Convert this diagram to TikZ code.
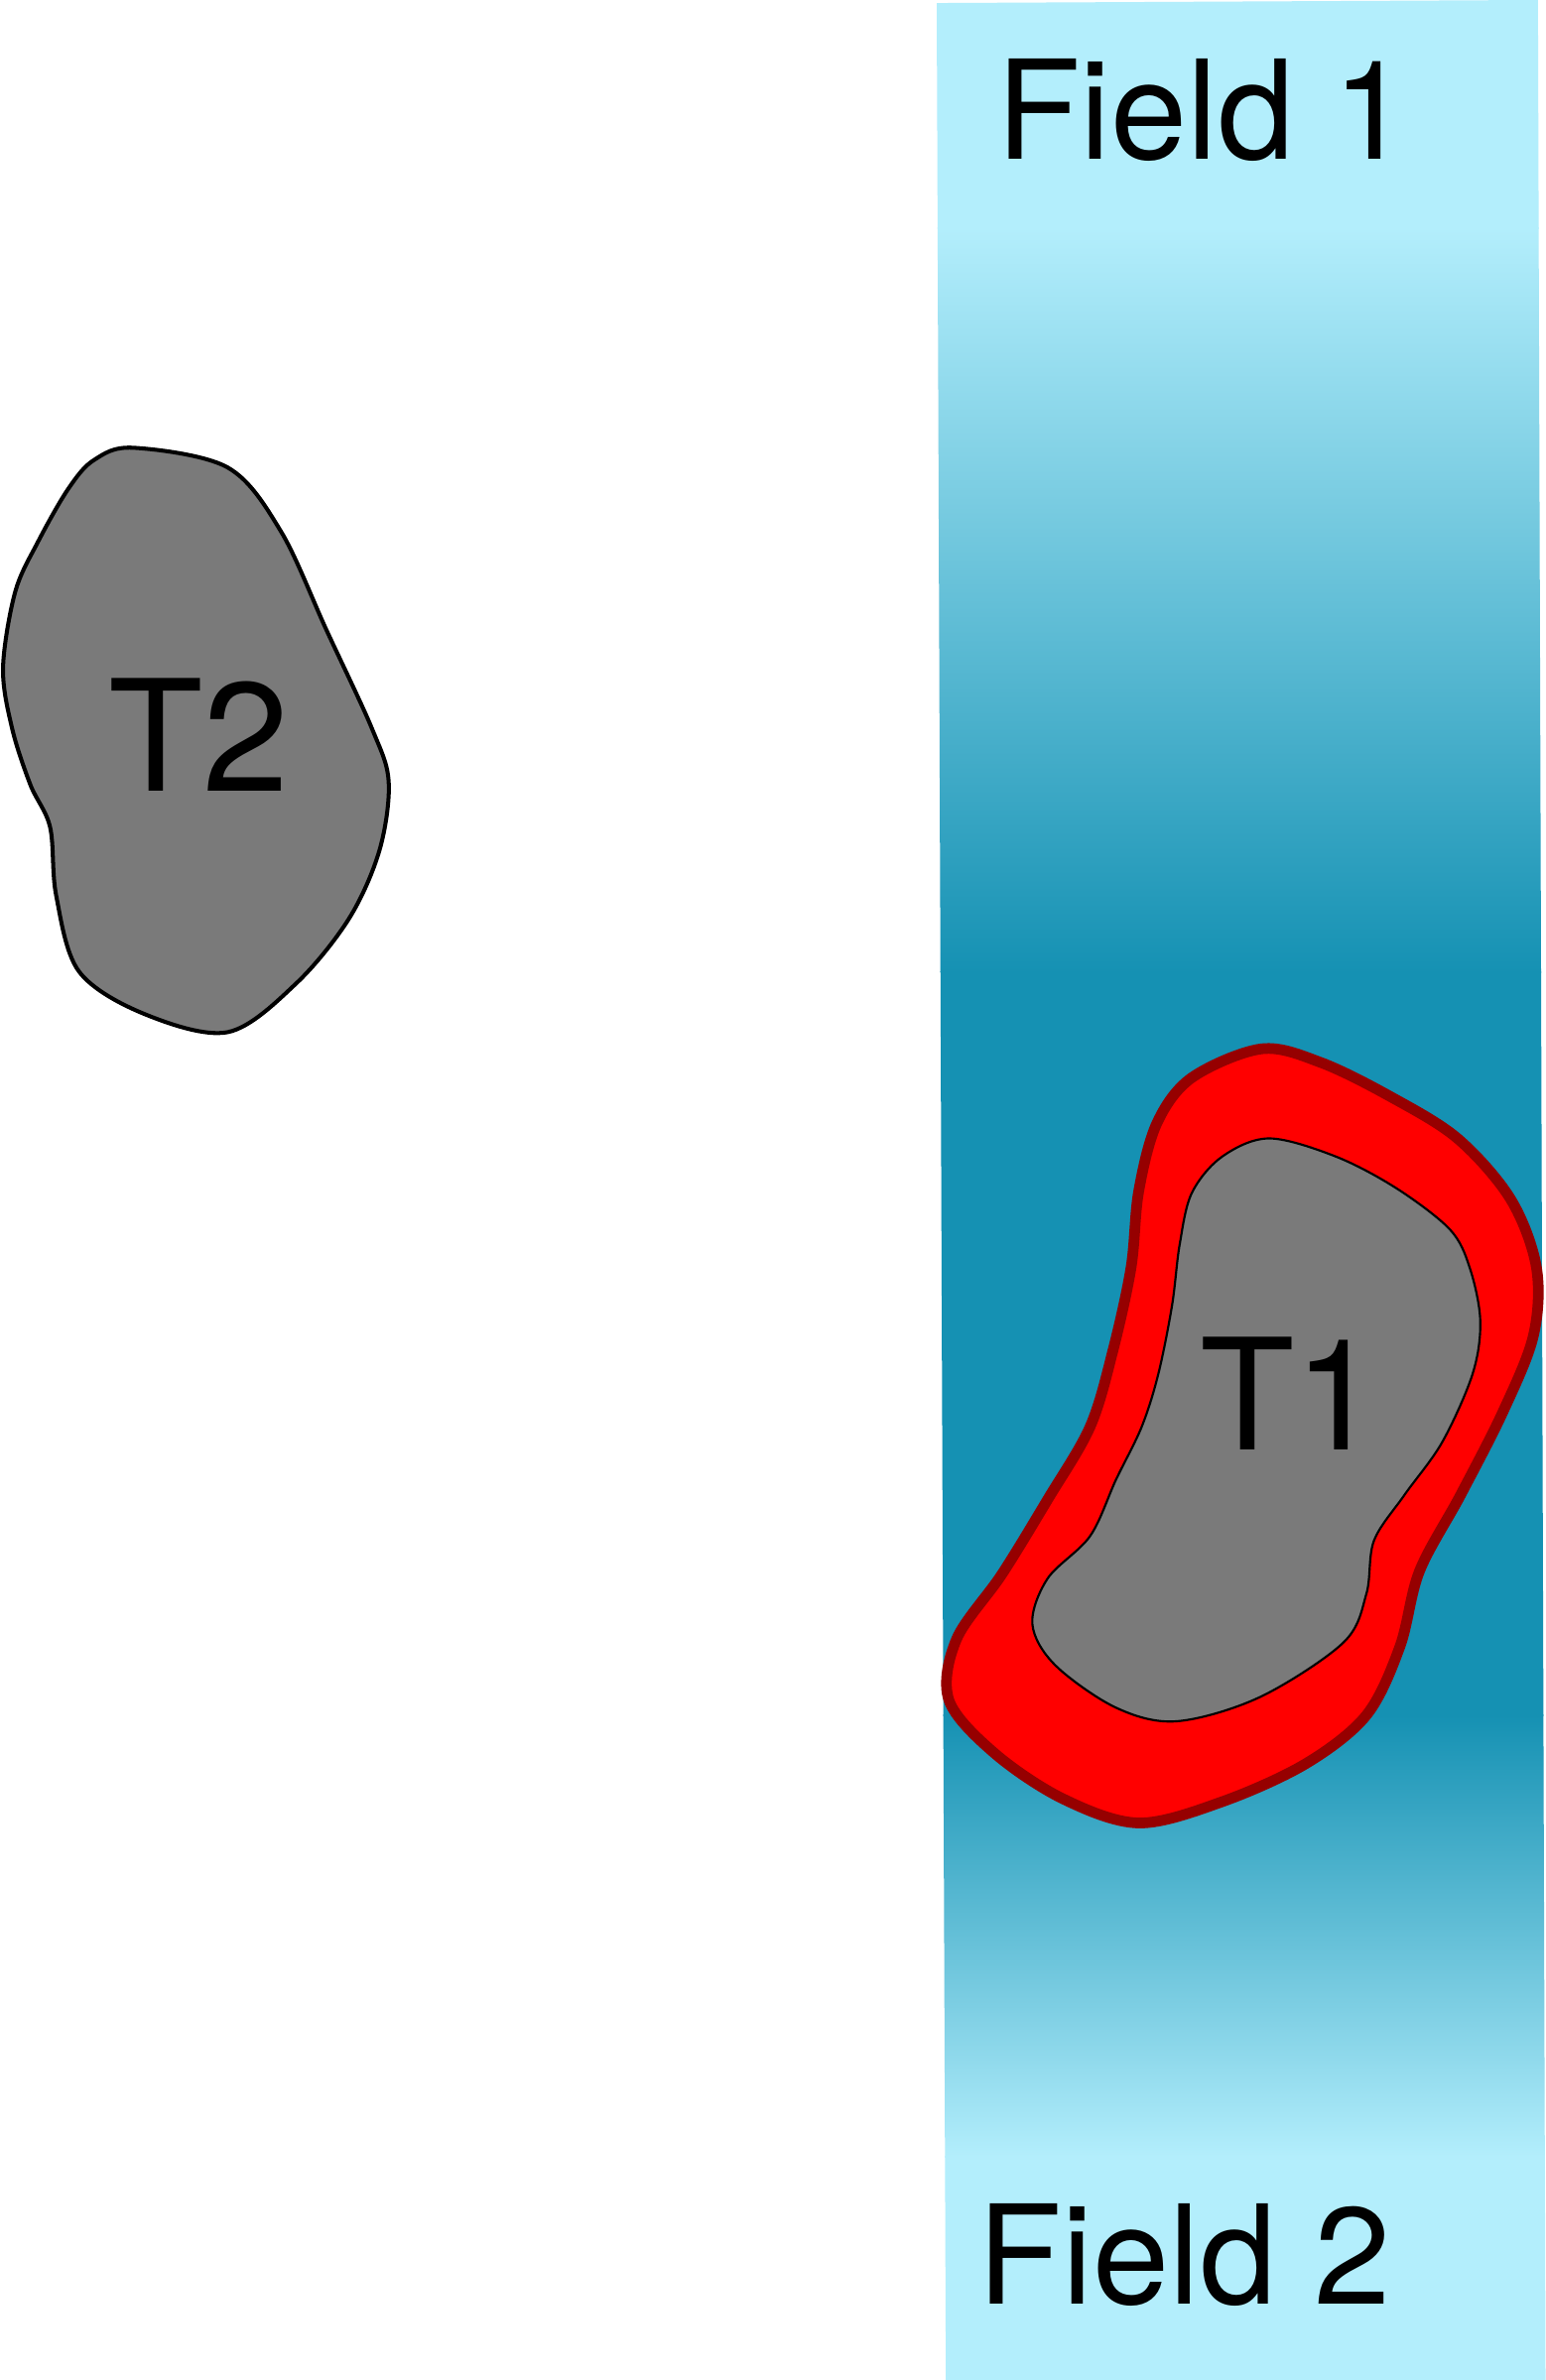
\documentclass[tikz,border=0pt]{standalone}
\usepackage{fontspec}
\setmainfont{TeX Gyre Heros}
\usetikzlibrary{positioning}
\definecolor{fieldlight}{RGB}{179,238,252}
\definecolor{fielddark}{RGB}{21,145,179}
\definecolor{tumourgray}{RGB}{122,122,122}
\definecolor{marginred}{RGB}{150,0,0}

\begin{document}
\begin{tikzpicture}[x=0.02cm, y=-0.02cm,
    fieldlabel/.style={font=\fontsize{51.6}{60}\selectfont, inner sep=0pt, anchor=base west},
    tlabel/.style={font=\fontsize{58}{68}\selectfont, inner sep=0pt, anchor=base west}]
    \useasboundingbox (0,0) rectangle (1018,1568);
    \fill[white] (0,0) rectangle (1018,1568);

    % the field band, light at both ends
    \begin{scope}
      \clip (617,2) -- (1013,0) -- (1018,1568) -- (623,1568) -- cycle;
      \fill[fieldlight] (600,0) rectangle (1020,151);
      \shade[top color=fieldlight, bottom color=fielddark] (600,150) rectangle (1020,641);
      \fill[fielddark] (600,640) rectangle (1020,1131);
      \shade[top color=fielddark, bottom color=fieldlight] (600,1130) rectangle (1020,1421);
      \fill[fieldlight] (600,1420) rectangle (1020,1568);
    \end{scope}

    % T2, outside the field
    \draw[line width=1.5pt, fill=tumourgray] plot[smooth cycle, tension=0.55] coordinates {
      (88,295) (62,303) (45,322) (25,357) (10,390) (2,440) (8,480) (20,517)
      (33,545) (37,590) (52,640) (95,668) (150,680) (195,648) (230,605)
      (250,560) (256,515) (245,480) (215,415) (185,350) (150,308)};

    % T1 with its red margin
    \draw[line width=4pt, draw=marginred, fill=red] plot[smooth cycle, tension=0.55] coordinates {
      (831,691) (785,710) (762,740) (750,785) (745,835) (733,890) (718,940)
      (690,988) (660,1037) (630,1080) (625,1120) (655,1155) (700,1185) (750,1201)
      (805,1187) (860,1162) (900,1130) (922,1085) (935,1035) (962,985) (990,930)
      (1010,880) (1012,835) (995,790) (960,750) (915,722) (870,700)};
    \draw[line width=0.8pt, fill=tumourgray] plot[smooth cycle, tension=0.55] coordinates {
      (836,750) (805,762) (785,786) (777,820) (772,860) (763,905) (752,940)
      (735,975) (718,1012) (690,1040) (680,1070) (695,1097) (735,1125) (775,1134)
      (830,1118) (885,1082) (900,1050) (905,1015) (925,985) (950,950) (970,905)
      (975,870) (968,835) (955,810) (920,783) (880,762)};

    \node[fieldlabel] (field1) at (656,105) {Field 1};
    \node[fieldlabel] (field2) at (644,1518) {Field 2};
    \node[tlabel] (t2) at (71,521) {T2};
    \node[tlabel] (t1) at (790,955) {T1};
\end{tikzpicture}
\end{document}
